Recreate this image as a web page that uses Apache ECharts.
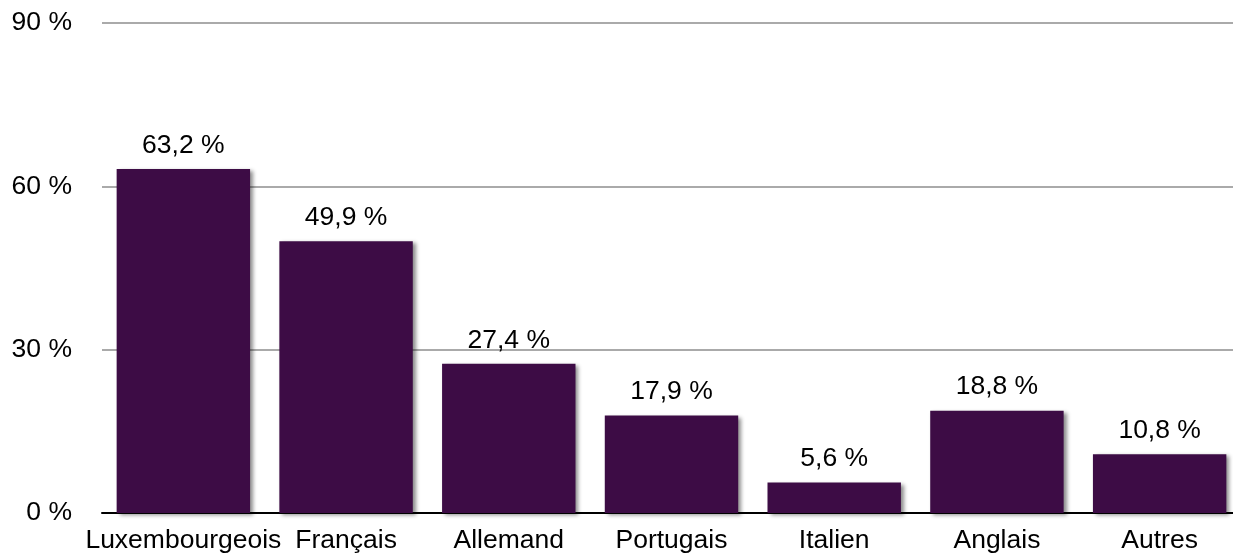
<!DOCTYPE html>
<html><head><meta charset="utf-8">
<script src="https://cdn.jsdelivr.net/npm/echarts@6/dist/echarts.min.js"></script>
<style>html,body{margin:0;padding:0;background:#fff;overflow:hidden}#c{width:1241px;height:554px}</style>
</head><body><div id="c"></div>
<script>
const categories = ["Luxembourgeois","Français","Allemand","Portugais","Italien","Anglais","Autres"];
const values = [63.2, 49.9, 27.4, 17.9, 5.6, 18.8, 10.8];
const yTicks = [0, 30, 60, 90];
const font = "'Liberation Sans', Arial, Helvetica, sans-serif";
const chart = echarts.init(document.getElementById('c'));
chart.setOption({
  animation: false,
  grid: {left: 102, right: 0, top: 23, bottom: 40, containLabel: false},
  xAxis: {
    type: 'category', data: categories,
    axisLine: {lineStyle: {color: '#000', width: 2}},
    axisTick: {show: false},
    axisLabel: {color: '#000', fontSize: 26.5, fontFamily: font, margin: 14, interval: 0}
  },
  yAxis: {
    type: 'value', min: yTicks[0], max: yTicks[yTicks.length-1], interval: 30,
    axisLine: {show: false}, axisTick: {show: false},
    axisLabel: {color: '#000', fontSize: 26.5, fontFamily: font, margin: 30,
      formatter: v => v + ' %'},
    splitLine: {lineStyle: {color: '#aaaaaa', width: 2}}
  },
  series: [{
    type: 'bar', data: values, barWidth: '82%',
    itemStyle: {color: '#3d0c45', shadowColor: 'rgba(0,0,0,0.45)', shadowBlur: 4, shadowOffsetX: 3, shadowOffsetY: 2},
    label: {show: true, position: 'top', distance: 10, color: '#000', fontSize: 26.5, fontFamily: font,
      formatter: p => p.value.toFixed(1).replace('.', ',') + ' %'}
  }]
});
</script></body></html>
